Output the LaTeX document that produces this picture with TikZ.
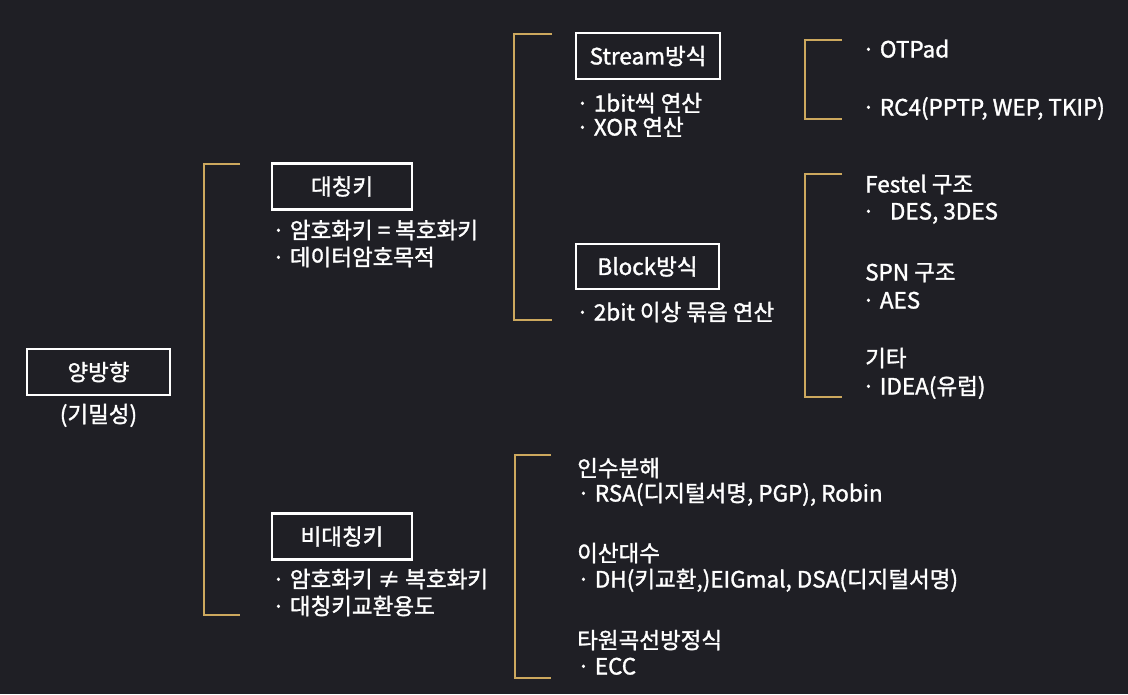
\documentclass[tikz,border=0pt]{standalone}
\usepackage{fontspec}
\usepackage{tikz}
\usetikzlibrary{positioning}
\usepackage{xcolor}
\newfontfamily\kr{Noto Sans CJK KR}[AutoFakeBold=1.4]
\definecolor{bgdark}{RGB}{31,31,37}
\definecolor{goldline}{RGB}{204,168,94}

\begin{document}
\begin{tikzpicture}[x=1pt, y=-1pt,
    catbox/.style={draw=white, line width=2.6pt, fill=bgdark, text=white,
                   font=\kr\bfseries\fontsize{22.5}{26}\selectfont,
                   minimum width=143pt, minimum height=46pt, inner sep=0pt},
    item/.style={anchor=west, text=white, inner sep=0pt,
                 font=\kr\bfseries\fontsize{22.5}{26}\selectfont,
                 text height=18pt, text depth=3pt},
    bracket/.style={draw=goldline, line width=2.8pt}]
            % Background
            \useasboundingbox (0,0) rectangle (1128,694);
            \fill[bgdark] (0,0) rectangle (1128,694);
            % Root node at left
            \node[catbox] (bidir) at (98.5,372) {양방향};
            \node[item, anchor=center] (secret) at (98.5,415) {(기밀성)};
            % Symmetric and asymmetric nodes
            \node[catbox, minimum width=140pt] (sym) at (342,186.5) {대칭키};
            \node[item] (sym1) at (272,231) {· 암호화키\ =\ 복호화키};
            \node[item] (sym2) at (272,258) {· 데이터암호목적};
            \node[catbox, minimum width=140pt] (asym) at (342,536.5) {비대칭키};
            \node[item] (asym1) at (272,580) {· 암호화키 ≠ 복호화키};
            \node[item] (asym2) at (272,607) {· 대칭키교환용도};
            % Stream and block nodes
            \node[catbox, minimum width=144pt] (stream) at (648,56) {Stream방식};
            \node[item] (st1) at (576,104) {· 1bit씩 연산};
            \node[item] (st2) at (576,128) {· XOR 연산};
            \node[catbox, minimum height=45pt] (block) at (647.5,266.5) {Block방식};
            \node[item] (bl1) at (576,313) {· 2bit 이상 묶음 연산};
            % Stream examples
            \node[item] (otp) at (862,50) {· OTPad};
            \node[item] (rc4) at (862,108) {· RC4(PPTP, WEP, TKIP)};
            % Block examples
            \node[item] (fes) at (865,185) {Festel 구조};
            \node[item] (des) at (862,212) {·\ \ \ DES, 3DES};
            \node[item] (spn) at (865,273) {SPN 구조};
            \node[item] (aes) at (862,301) {· AES};
            \node[item] (etc) at (865,359) {기타};
            \node[item] (idea) at (862,387) {· IDEA(유럽)};
            % Asymmetric examples
            \node[item] (fac) at (577,469) {인수분해};
            \node[item] (rsa) at (577,494) {· RSA(디지털서명, PGP), Robin};
            \node[item] (dlog) at (577,554) {이산대수};
            \node[item] (dh) at (577,580) {· DH(키교환,)EIGmal, DSA(디지털서명)};
            \node[item] (ell) at (577,641) {타원곡선방정식};
            \node[item] (ecc) at (577,667) {· ECC};
            % Bracket end points
            \coordinate (b1t) at (240,164);
            \coordinate (b1b) at (240,615);
            \coordinate (b2t) at (552,34);
            \coordinate (b2b) at (552,320);
            \coordinate (b3t) at (842,40);
            \coordinate (b3b) at (842,119);
            \coordinate (b4t) at (842,174);
            \coordinate (b4b) at (842,397);
            \coordinate (b5t) at (551,455);
            \coordinate (b5b) at (551,678);
            % Brackets
            \draw[bracket] (b1t) -- ++(-36,0) |- (b1b);
            \draw[bracket] (b2t) -- ++(-38,0) |- (b2b);
            \draw[bracket] (b3t) -- ++(-37,0) |- (b3b);
            \draw[bracket] (b4t) -- ++(-37,0) |- (b4b);
            \draw[bracket] (b5t) -- ++(-36,0) |- (b5b);
          \end{tikzpicture}
\end{document}
